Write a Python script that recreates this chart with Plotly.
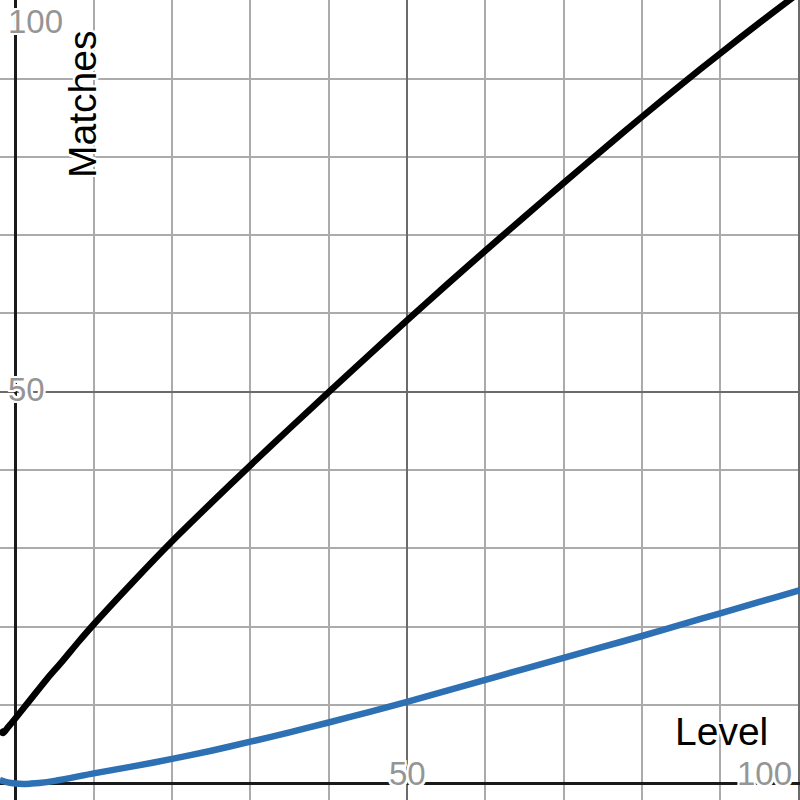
import plotly.graph_objects as go

# Data
level_black = [-2, -1.6, -1, 0, 2, 4, 6, 8, 10, 15, 20, 25, 30, 35, 40, 45, 50, 55, 60, 65, 70, 75, 80, 85, 90, 95, 100, 101]
matches_black = [6.8, 6.4, 7.1, 8.3, 10.8, 13.3, 15.6, 18.0, 20.3, 25.7, 30.9, 35.8, 40.6, 45.3, 49.95, 54.55, 59.1, 63.6, 68.0, 72.35, 76.65, 80.9, 85.1, 89.2, 93.2, 97.1, 100.9, 101.7]

level_blue = [-2, -1, 0, 1, 2, 3, 5, 10, 15, 20, 25, 30, 35, 40, 45, 50, 55, 60, 65, 70, 75, 80, 85, 90, 95, 100, 101]
matches_blue = [0.4, 0.1, -0.05, -0.1, -0.05, 0.03, 0.3, 1.25, 2.15, 3.1, 4.15, 5.3, 6.5, 7.75, 9.05, 10.4, 11.8, 13.2, 14.6, 16.0, 17.4, 18.8, 20.25, 21.7, 23.15, 24.6, 24.9]

x_tick_labels = ["50", "100"]
y_tick_labels = ["50", "100"]
x_title = "Level"
y_title = "Matches"

W = H = 800
X0_PX, Y0_PX, SCALE = 15.5, 783.2, 7.83
x_range = [-X0_PX / SCALE, (W - X0_PX) / SCALE]
y_range = [-(H - Y0_PX) / SCALE, Y0_PX / SCALE]

FONT = "Arial, Liberation Sans, sans-serif"
HALO = ("2px 0 0 white, -2px 0 0 white, 0 2px 0 white, 0 -2px 0 white, "
        "2px 2px 0 white, -2px -2px 0 white, 2px -2px 0 white, -2px 2px 0 white")

fig = go.Figure()
fig.add_trace(go.Scatter(x=level_blue, y=matches_blue, mode="lines",
                         line=dict(color="#2d70b3", width=6.5, shape="spline", smoothing=0.8),
                         hoverinfo="skip", showlegend=False))
fig.add_trace(go.Scatter(x=level_black, y=matches_black, mode="lines",
                         line=dict(color="#000000", width=6.5, shape="spline", smoothing=0.8),
                         hoverinfo="skip", showlegend=False))

axis_common = dict(
    tick0=0, dtick=50, showgrid=True, gridcolor="#6b6b6b", gridwidth=2,
    minor=dict(tick0=0, dtick=10, showgrid=True, gridcolor="#ababab", gridwidth=2),
    zeroline=True, zerolinecolor="#1a1a1a", zerolinewidth=3,
    showticklabels=False, ticks="", showline=False, fixedrange=True,
)
fig.update_xaxes(range=x_range, **axis_common)
fig.update_yaxes(range=y_range, **axis_common)


def py_to_y(py):
    return (Y0_PX - py) / SCALE


def px_to_x(px):
    return (px - X0_PX) / SCALE


annotations = []
tick_font = dict(family=FONT, size=33, color="#959595", shadow=HALO)
# y tick labels (pushed inside the view, left aligned near the edge)
y_label_px = {"50": 389, "100": 21}
for lab in y_tick_labels:
    annotations.append(dict(text=lab, x=px_to_x(6), y=py_to_y(y_label_px[lab]), xref="x", yref="y",
                            xanchor="left", yanchor="middle", showarrow=False, font=tick_font))
# x tick labels (pushed up above the bottom edge)
for lab, val in zip(x_tick_labels, [50, 100]):
    if val == 100:
        annotations.append(dict(text=lab, x=px_to_x(794), y=py_to_y(773), xref="x", yref="y",
                                xanchor="right", yanchor="middle", showarrow=False, font=tick_font))
    else:
        annotations.append(dict(text=lab, x=val, y=py_to_y(773), xref="x", yref="y",
                                xanchor="center", yanchor="middle", showarrow=False, font=tick_font))

title_font = dict(family=FONT, size=39, color="#000000", shadow=HALO)
annotations.append(dict(text=x_title, x=721 / W, y=1 - 731 / H, xref="paper", yref="paper",
                        xanchor="center", yanchor="middle", showarrow=False, font=title_font))
annotations.append(dict(text=y_title, x=83 / W, y=1 - 105 / H, xref="paper", yref="paper", textangle=-90,
                        xanchor="center", yanchor="middle", showarrow=False, font=title_font))

fig.update_layout(
    width=W, height=H, margin=dict(l=0, r=0, t=0, b=0),
    paper_bgcolor="white", plot_bgcolor="white",
    annotations=annotations, showlegend=False,
)

fig.write_html("out.html", config={"displayModeBar": False},
               post_script="document.body.style.margin='0';document.body.style.overflow='hidden';")
